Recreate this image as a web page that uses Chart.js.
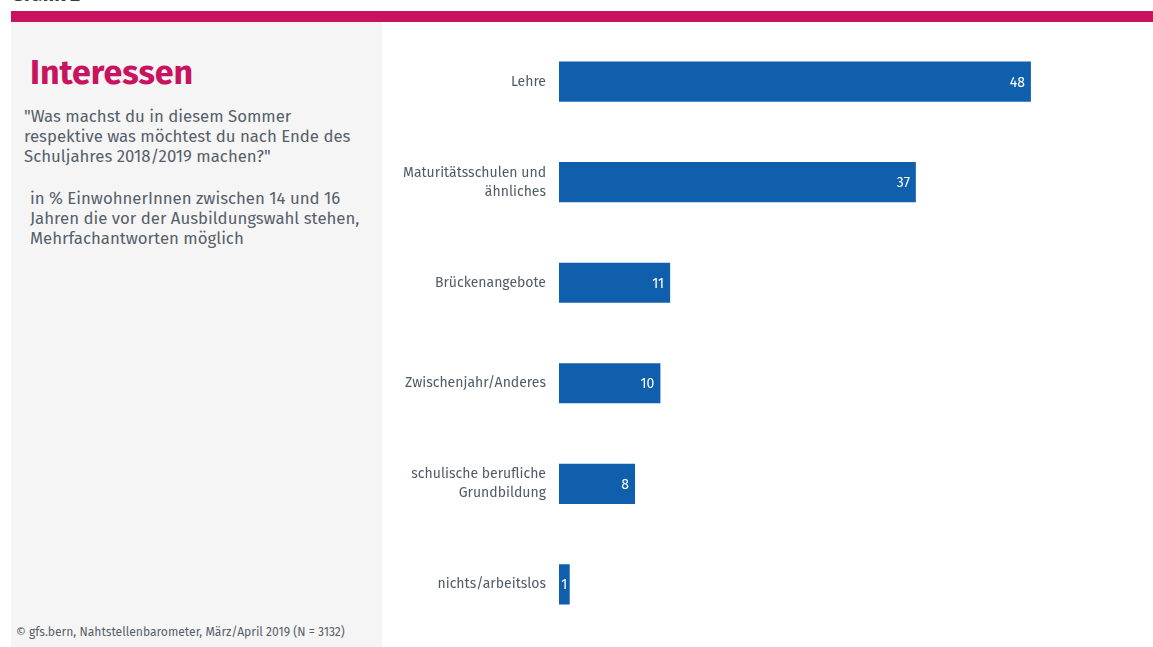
<!DOCTYPE html>
<html>
<head>
<meta charset="utf-8">
<script src="https://cdn.jsdelivr.net/npm/chart.js@4.4.1/dist/chart.umd.min.js"></script>
<style>
  html, body { margin: 0; padding: 0; background: #fff; width: 1153px; height: 647px; overflow: hidden; font-family: 'Fira Sans', Roboto, 'Noto Sans', sans-serif; }
  #cut { position: absolute; left: 11px; top: -18px; font-size: 20px; font-weight: bold; color: #3c3c3c; }
  #band { position: absolute; left: 11px; top: 11px; width: 1142px; height: 11px; background: #c8145f; }
  #panel { position: absolute; left: 11px; top: 22px; width: 371px; height: 625px; background: #f5f5f5; }
  #title { position: absolute; left: 30px; top: 52px; font-size: 34px; font-weight: bold; color: #c8145f; }
  .txt { position: absolute; font-size: 16.8px; line-height: 20px; color: #55606b; }
  #q { left: 24px; top: 106px; }
  #note { left: 30px; top: 188px; }
  #src { position: absolute; left: 16px; top: 625px; font-size: 12.1px; color: #55606b; }
  #wrap { position: absolute; left: 382px; top: 9px; width: 771px; height: 648px; }
</style>
</head>
<body>
<div id="cut">Grafik 2</div>
<div id="band"></div>
<div id="panel"></div>
<div id="title">Interessen</div>
<div class="txt" id="q">"Was machst du in diesem Sommer<br>respektive was möchtest du nach Ende des<br>Schuljahres 2018/2019 machen?"</div>
<div class="txt" id="note">in % EinwohnerInnen zwischen 14 und 16<br>Jahren die vor der Ausbildungswahl stehen,<br>Mehrfachantworten möglich</div>
<div id="src">© gfs.bern, Nahtstellenbarometer, März/April 2019 (N = 3132)</div>
<div id="wrap"><canvas id="interestsChart" width="771" height="648"></canvas></div>
<script>
const categories = [
  'Lehre',
  ['Maturitätsschulen und', 'ähnliches'],
  'Brückenangebote',
  'Zwischenjahr/Anderes',
  ['schulische berufliche', 'Grundbildung'],
  'nichts/arbeitslos'
];
// shown rounded like the original labels
const shares = [48.4, 36.6, 11.4, 10.4, 7.8, 1.1];

const valueLabels = {
  id: 'valueLabels',
  afterDatasetsDraw(chart) {
    const ctx = chart.ctx;
    const meta = chart.getDatasetMeta(0);
    ctx.save();
    ctx.fillStyle = '#ffffff';
    ctx.font = '14px "Fira Sans", Roboto, sans-serif';
    ctx.textBaseline = 'middle';
    meta.data.forEach((bar, i) => {
      const txt = String(Math.round(shares[i]));
      const w = bar.x - bar.base;
      if (w < 20) {
        ctx.textAlign = 'center';
        ctx.fillText(txt, (bar.x + bar.base) / 2, bar.y + 1);
      } else {
        ctx.textAlign = 'right';
        ctx.fillText(txt, bar.x - 6, bar.y + 1);
      }
    });
    ctx.restore();
  }
};

new Chart(document.getElementById('interestsChart').getContext('2d'), {
  type: 'bar',
  data: {
    labels: categories,
    datasets: [{ data: shares, backgroundColor: '#0f5fac', borderWidth: 0, barPercentage: 0.5, categoryPercentage: 0.8 }]
  },
  options: {
    indexAxis: 'y',
    responsive: false,
    animation: false,
    layout: { padding: { top: 9, bottom: 13, right: 9, left: 0 } },
    scales: {
      x: { display: false, min: 0, max: 60 },
      y: {
        afterFit: (axis) => { axis.width = 177; },
        grid: { display: false, drawTicks: false },
        border: { display: false },
        ticks: { padding: 13, color: '#4f5b66', font: { size: 14, family: '"Fira Sans", Roboto, sans-serif', lineHeight: 1.35 } }
      }
    },
    plugins: { legend: { display: false }, tooltip: { enabled: false } }
  },
  plugins: [valueLabels]
});
</script>
</body>
</html>
